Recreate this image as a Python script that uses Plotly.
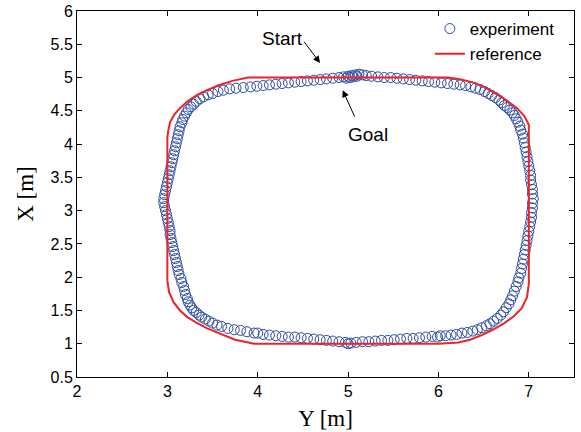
import plotly.graph_objects as go

# Experiment trajectory (Y [m], X [m])
exp_y = [3.92, 3.99, 4.06, 4.13, 4.20, 4.27, 4.34, 4.41, 4.48, 4.55, 4.62, 4.69, 4.76, 4.83, 4.90,
         4.95, 5.00, 5.04, 5.08, 5.12, 5.16, 5.20, 5.26, 5.33, 5.40, 5.47, 5.54, 5.61, 5.68, 5.75,
         5.82, 5.89, 5.96, 6.03, 4.98, 5.02, 5.06, 5.10,
         6.10, 6.17, 6.24, 6.30, 6.36, 6.41, 6.46, 6.51, 6.55, 6.59, 6.63, 6.67, 6.70, 6.73, 6.76,
         6.79, 6.82, 6.84, 6.86, 6.88, 6.90, 6.91, 6.93, 6.94, 6.95, 6.96, 6.97, 6.98, 6.99, 7.00,
         7.01, 7.02, 7.02, 7.03, 7.04, 7.04, 7.05, 7.04, 7.04, 7.03, 7.03, 7.02, 7.01, 7.00, 6.99,
         6.98, 6.97, 6.96, 6.95, 6.94, 6.93, 6.92, 6.91, 6.89, 6.88, 6.86, 6.84, 6.82, 6.80, 6.78,
         6.75, 6.72, 6.69, 6.65, 6.61, 6.57, 6.53, 6.48, 6.43, 6.38, 6.32, 6.26, 6.20, 6.14, 6.08,
         6.02, 5.99, 5.93, 5.86, 5.79, 5.72, 5.65, 5.58, 5.51, 5.44, 5.37, 5.30, 5.23, 5.16, 5.09,
         5.03, 5.00, 4.97, 4.90, 4.83, 4.76, 4.69, 4.62, 4.55, 4.48, 4.41, 4.34, 4.27, 4.20, 4.13,
         4.06, 4.00, 3.96, 3.88, 3.81, 3.74, 3.67, 3.60, 3.55, 3.50, 3.46, 3.42, 3.38, 3.35, 3.32,
         3.29, 3.27, 3.25, 3.23, 3.22, 3.20, 3.19, 3.18, 3.16, 3.15, 3.13, 3.12, 3.11, 3.10, 3.09,
         3.08, 3.07, 3.06, 3.05, 3.04, 3.03, 3.03, 3.02, 3.01, 3.00, 2.99, 2.98, 2.97, 2.96, 2.96,
         2.97, 2.98, 2.99, 3.00, 3.01, 3.02, 3.03, 3.04, 3.05, 3.06, 3.07, 3.08, 3.09, 3.10, 3.11,
         3.12, 3.13, 3.14, 3.16, 3.17, 3.19, 3.21, 3.23, 3.26, 3.29, 3.32, 3.36, 3.40, 3.45, 3.50,
         3.56, 3.62, 3.69, 3.76, 3.84]
exp_x = [4.86, 4.87, 4.88, 4.89, 4.90, 4.91, 4.92, 4.93, 4.94, 4.95, 4.96, 4.97, 4.98, 4.99, 5.00,
         5.01, 5.02, 5.03, 5.04, 5.05, 5.04, 5.03, 5.02, 5.01, 5.00, 5.00, 4.99, 4.98, 4.97, 4.96,
         4.95, 4.94, 4.93, 4.92, 4.99, 5.00, 5.01, 5.02,
         4.91, 4.90, 4.89, 4.88, 4.86, 4.84, 4.82, 4.79, 4.76, 4.73, 4.70, 4.66, 4.62, 4.58, 4.55,
         4.51, 4.47, 4.43, 4.38, 4.33, 4.27, 4.21, 4.15, 4.09, 4.02, 3.95, 3.88, 3.81, 3.74, 3.67,
         3.60, 3.53, 3.46, 3.39, 3.32, 3.25, 3.18, 3.11, 3.04, 2.97, 2.90, 2.83, 2.76, 2.69, 2.62,
         2.55, 2.48, 2.41, 2.34, 2.27, 2.20, 2.13, 2.06, 1.99, 1.93, 1.86, 1.79, 1.72, 1.66, 1.60,
         1.54, 1.48, 1.43, 1.38, 1.34, 1.30, 1.27, 1.24, 1.21, 1.19, 1.17, 1.16, 1.14, 1.13, 1.12,
         1.12, 1.10, 1.11, 1.10, 1.09, 1.08, 1.08, 1.07, 1.06, 1.05, 1.05, 1.04, 1.03, 1.03, 1.02,
         1.01, 1.00, 1.02, 1.03, 1.04, 1.05, 1.06, 1.07, 1.08, 1.09, 1.10, 1.10, 1.11, 1.12, 1.13,
         1.14, 1.16, 1.16, 1.18, 1.20, 1.21, 1.23, 1.26, 1.28, 1.31, 1.34, 1.37, 1.40, 1.43, 1.47,
         1.50, 1.54, 1.58, 1.63, 1.68, 1.74, 1.80, 1.86, 1.92, 1.98, 2.04, 2.10, 2.16, 2.22, 2.28,
         2.34, 2.40, 2.46, 2.52, 2.58, 2.64, 2.70, 2.76, 2.82, 2.88, 2.94, 3.00, 3.06, 3.12, 3.18,
         3.24, 3.30, 3.36, 3.42, 3.48, 3.54, 3.60, 3.66, 3.72, 3.78, 3.84, 3.90, 3.96, 4.02, 4.08,
         4.14, 4.20, 4.26, 4.32, 4.37, 4.42, 4.47, 4.52, 4.56, 4.60, 4.64, 4.68, 4.71, 4.74, 4.76,
         4.79, 4.81, 4.83, 4.84, 4.85]

# Reference path (Y [m], X [m])
ref_y = [3.00, 3.00, 3.01, 3.03, 3.08, 3.14, 3.22, 3.33, 3.44, 3.56, 3.72, 3.89,
         6.11, 6.25, 6.40, 6.52, 6.62, 6.75, 6.87, 6.95, 7.00,
         7.00, 6.98, 6.92, 6.83, 6.73, 6.60, 6.48, 6.35, 6.22, 6.00,
         3.96, 3.75, 3.56, 3.44, 3.33, 3.22, 3.14, 3.07, 3.02, 3.00]
ref_x = [1.95, 4.10, 4.20, 4.33, 4.45, 4.54, 4.64, 4.74, 4.81, 4.88, 4.95, 5.00,
         5.00, 4.97, 4.92, 4.85, 4.77, 4.66, 4.54, 4.42, 4.29,
         1.90, 1.70, 1.53, 1.41, 1.31, 1.21, 1.13, 1.06, 1.02, 1.00,
         1.00, 1.06, 1.16, 1.23, 1.31, 1.40, 1.50, 1.62, 1.77, 1.95]

x_ticks = [2, 3, 4, 5, 6, 7]
y_ticks = [0.5, 1, 1.5, 2, 2.5, 3, 3.5, 4, 4.5, 5, 5.5, 6]
y_tick_text = ["0.5", "1", "1.5", "2", "2.5", "3", "3.5", "4", "4.5", "5", "5.5", "6"]

SANS = "Liberation Sans, Arial"
SERIF = "Liberation Serif, Times New Roman"

fig = go.Figure()
fig.add_trace(go.Scatter(
    x=exp_y, y=exp_x, mode="markers", name="experiment",
    marker=dict(symbol="circle-open", size=10, color="#2b4aa3", line=dict(width=1, color="#2b4aa3")),
))
fig.add_trace(go.Scatter(
    x=ref_y, y=ref_x, mode="lines", name="reference",
    line=dict(color="#ec2327", width=2),
))

axis_common = dict(
    showline=True, linecolor="black", linewidth=1, mirror="ticks",
    ticks="inside", ticklen=5, tickcolor="black", showgrid=False, zeroline=False,
    automargin=False,
    tickfont=dict(family=SANS, size=16, color="black"),
)

fig.update_xaxes(range=[2, 7.5], tickvals=x_ticks,
                 title=dict(text="Y [m]", font=dict(family=SERIF, size=23, color="black"), standoff=10),
                 **axis_common)
fig.update_yaxes(range=[0.5, 6], tickvals=y_ticks, ticktext=y_tick_text,
                 title=dict(text="X [m]", font=dict(family=SERIF, size=23, color="black"), standoff=10),
                 **axis_common)

arrow_style = dict(showarrow=True, arrowhead=2, arrowsize=1.4, arrowwidth=1, arrowcolor="black",
                   xref="x", yref="y", axref="x", ayref="y", text="")
fig.add_annotation(x=4.69, y=5.22, ax=4.50, ay=5.56, **arrow_style)
fig.add_annotation(x=4.94, y=4.81, ax=5.08, ay=4.39, **arrow_style)
fig.add_annotation(x=4.27, y=5.59, text="Start", showarrow=False, xref="x", yref="y",
                   font=dict(family=SANS, size=19, color="black"))
fig.add_annotation(x=5.22, y=4.14, text="Goal", showarrow=False, xref="x", yref="y",
                   font=dict(family=SANS, size=19, color="black"))

fig.update_layout(
    width=581, height=432,
    margin=dict(l=77, r=7, t=11, b=55),
    plot_bgcolor="white", paper_bgcolor="white",
    legend=dict(x=0.71, y=1.0, xanchor="left", yanchor="top", bgcolor="rgba(0,0,0,0)",
                font=dict(family=SANS, size=17, color="black")),
)

fig.write_html("out.html", config={"displayModeBar": False},
               post_script="document.body.style.margin='0';")
